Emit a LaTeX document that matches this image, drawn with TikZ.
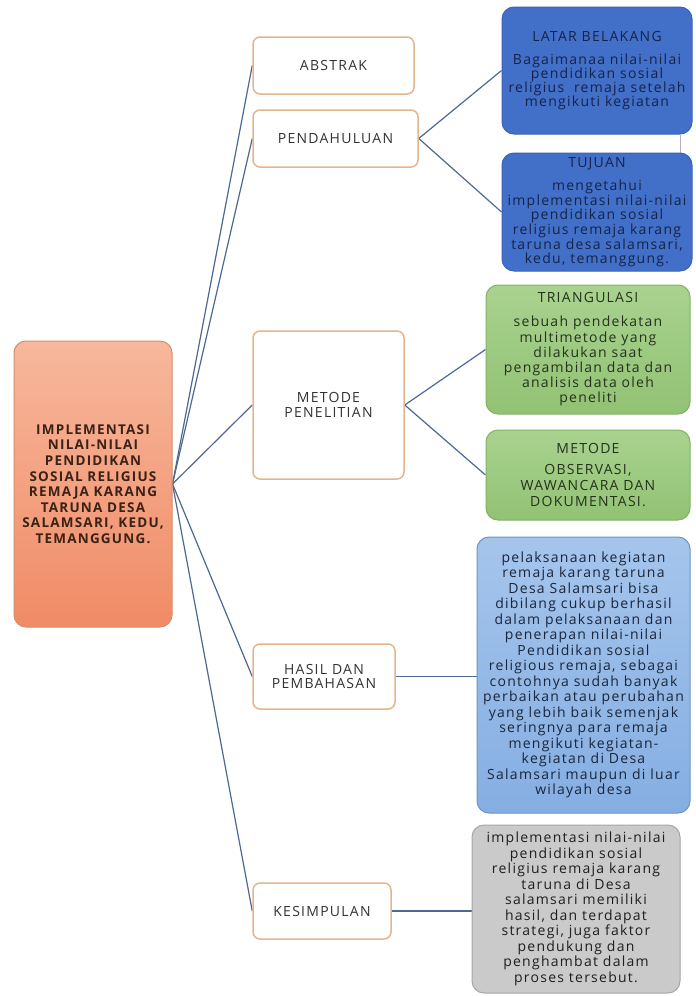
\documentclass[tikz,border=0pt]{standalone}
\usepackage{fontspec}
\setmainfont{Open Sans}[LetterSpace=9]
\usetikzlibrary{backgrounds}
\definecolor{linec}{HTML}{4D6893}
\definecolor{wborder}{HTML}{E2B68C}
\definecolor{wtext}{HTML}{333333}
\definecolor{bluef}{HTML}{4270C8}
\definecolor{blueb}{HTML}{3A62B8}
\definecolor{bluet}{HTML}{15234A}
\definecolor{greent}{HTML}{A9D28F}
\definecolor{greenb}{HTML}{92C274}
\definecolor{greenbd}{HTML}{82B365}
\definecolor{greentx}{HTML}{25321D}
\definecolor{lbt}{HTML}{A5C5EC}
\definecolor{lbb}{HTML}{85AEE2}
\definecolor{lbbd}{HTML}{6E93C9}
\definecolor{lbtx}{HTML}{1A263C}
\definecolor{grayf}{HTML}{CACACA}
\definecolor{graybd}{HTML}{A6A6A6}
\definecolor{orat}{HTML}{F7B89C}
\definecolor{orab}{HTML}{F08B66}
\definecolor{orabd}{HTML}{D58E6C}
\definecolor{oratx}{HTML}{3A2216}
\tikzset{
  conn/.style={draw=linec, line width=1.2pt},
  wbox/.style={draw=wborder, line width=1.5pt, fill=white, rounded corners=7pt,
    inner sep=0pt, align=center, text=wtext,
    font=\fontsize{14}{14.5}\selectfont},
  cbox/.style={rounded corners=12pt, inner sep=0pt, align=center,
    font=\fontsize{14}{15.2}\selectfont},
  bluebox/.style={cbox, fill=bluef, draw=blueb, line width=1pt, text=bluet},
  greenbox/.style={cbox, top color=greent, bottom color=greenb, draw=greenbd, line width=1pt, text=greentx},
  lbbox/.style={cbox, top color=lbt, bottom color=lbb, draw=lbbd, line width=1pt, text=lbtx},
  graybox/.style={cbox, fill=grayf, draw=graybd, line width=1pt, text=black!88},
  orabox/.style={cbox, top color=orat, bottom color=orab, draw=orabd, line width=1pt, text=oratx,
    font=\bfseries\fontsize{13.5}{15.6}\selectfont},
}
\begin{document}
\begin{tikzpicture}[x=1pt, y=-1pt]
\useasboundingbox (0,0) rectangle (696,996);

\node[orabox, minimum width=158pt, minimum height=286pt] (c) at (93,484)
  {IMPLEMENTASI\\NILAI-NILAI\\PENDIDIKAN\\SOSIAL RELIGIUS\\REMAJA KARANG\\TARUNA DESA\\SALAMSARI, KEDU,\\TEMANGGUNG.};

\node[wbox, minimum width=161pt, minimum height=57pt] (abs) at (333.5,65.5) {ABSTRAK};
\node[wbox, minimum width=165pt, minimum height=57pt] (pend) at (335.5,138.5) {PENDAHULUAN};
\node[wbox, minimum width=151pt, minimum height=148pt] (met) at (328.5,405) {METODE\\PENELITIAN};
\node[wbox, minimum width=142pt, minimum height=65pt] (has) at (324,676.5) {HASIL DAN\\PEMBAHASAN};
\node[wbox, minimum width=138pt, minimum height=56pt] (kes) at (322,911) {KESIMPULAN};

\node[bluebox, minimum width=190pt, minimum height=127pt, font=\fontsize{14}{14}\selectfont] (latar) at (597,70.5)
  {LATAR BELAKANG\\[9pt]Bagaimanaa nilai-nilai\\pendidikan sosial\\religius\ \ remaja setelah\\mengikuti kegiatan};
\node[bluebox, minimum width=190pt, minimum height=118pt, font=\fontsize{14}{14.6}\selectfont] (tuj) at (597,212)
  {TUJUAN\\[9pt]mengetahui\\implementasi nilai-nilai\\pendidikan sosial\\religius remaja karang\\taruna desa salamsari,\\kedu, temanggung.};

\node[greenbox, minimum width=204pt, minimum height=129pt] (tri) at (588,349.5)
  {TRIANGULASI\\[9pt]sebuah pendekatan\\multimetode yang\\dilakukan saat\\pengambilan data dan\\analisis data oleh\\peneliti};
\node[greenbox, minimum width=204pt, minimum height=90pt, font=\fontsize{14}{16}\selectfont] (metg) at (588,475)
  {METODE\\[5pt]OBSERVASI,\\WAWANCARA DAN\\DOKUMENTASI.};

\node[lbbox, minimum width=213pt, minimum height=276pt, font=\fontsize{14}{15.5}\selectfont] (hasb) at (583.5,675)
  {pelaksanaan kegiatan\\remaja karang taruna\\Desa Salamsari bisa\\dibilang cukup berhasil\\dalam pelaksanaan dan\\penerapan nilai-nilai\\Pendidikan sosial\\religious remaja, sebagai\\contohnya sudah banyak\\perbaikan atau perubahan\\yang lebih baik semenjak\\seringnya para remaja\\mengikuti kegiatan-\\kegiatan di Desa\\Salamsari maupun di luar\\wilayah desa};

\node[graybox, minimum width=208pt, minimum height=168pt, font=\fontsize{14}{15.5}\selectfont] (grayk) at (576,909)
  {implementasi nilai-nilai\\pendidikan sosial\\religius remaja karang\\taruna di Desa\\salamsari memiliki\\hasil, dan terdapat\\strategi, juga faktor\\pendukung dan\\penghambat dalam\\proses tersebut.};

\begin{scope}[on background layer]
\fill[white] (0,0) rectangle (696,996);
\draw[conn] (c.east) -- (abs.west);
\draw[conn] (c.east) -- (pend.west);
\draw[conn] (c.east) -- (met.west);
\draw[conn] (c.east) -- (has.west);
\draw[conn] (c.east) -- (kes.west);
\draw[conn] (pend.east) -- (latar.west);
\draw[conn] (pend.east) -- (tuj.west);
\draw[conn] (met.east) -- (tri.west);
\draw[conn] (met.east) -- (metg.west);
\draw[conn] (has.east) -- (has.east -| hasb.west);
\draw[conn] (kes.east) -- (kes.east -| grayk.west);
\draw[draw=gray!60, line width=0.8pt] ([xshift=-12pt]latar.south east) -- ([xshift=-12pt]tuj.north east);
\end{scope}
\end{tikzpicture}
\end{document}
